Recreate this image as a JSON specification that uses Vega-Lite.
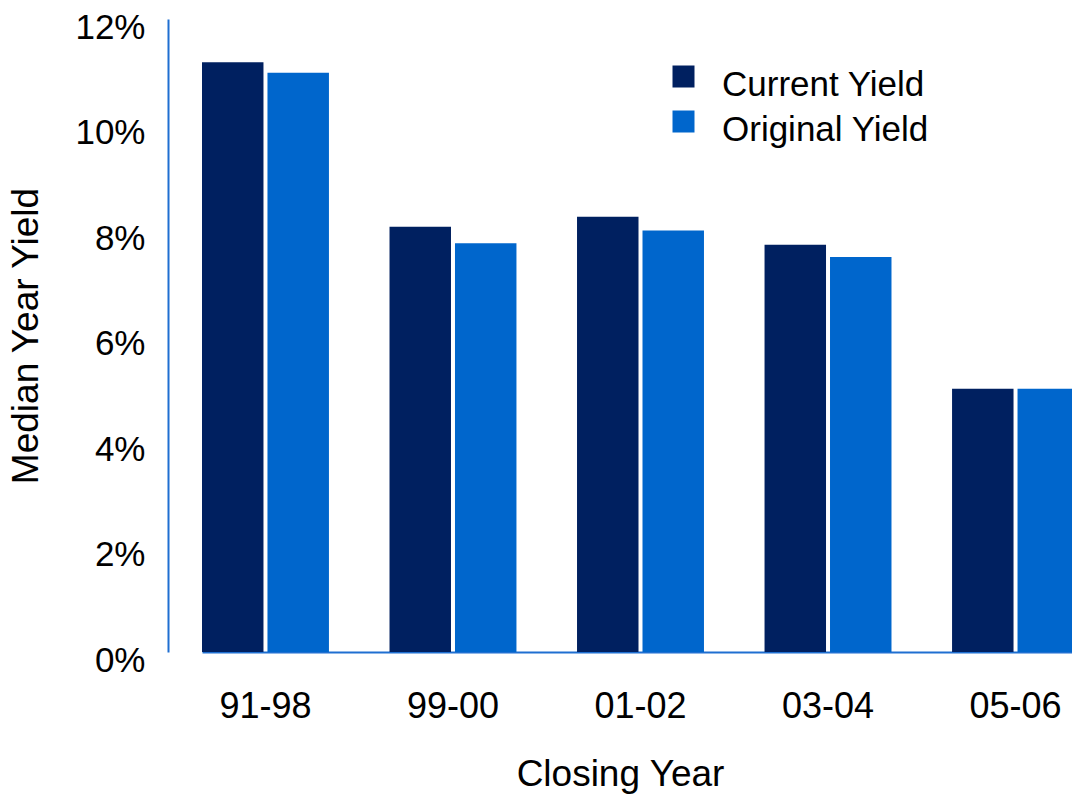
{
  "$schema": "https://vega.github.io/schema/vega-lite/v6.json",
  "width": 870,
  "height": 633,
  "autosize": {"type": "none"},
  "padding": {"left": 202, "top": 19, "right": 0, "bottom": 145},
  "background": "white",
  "config": {"view": {"stroke": null}, "font": "Liberation Sans"},
  "data": {
    "values": [
      {"period": "91-98", "series": "Current Yield", "value": 0.1118},
      {"period": "91-98", "series": "Original Yield", "value": 0.1098},
      {"period": "99-00", "series": "Current Yield", "value": 0.0806},
      {"period": "99-00", "series": "Original Yield", "value": 0.0775},
      {"period": "01-02", "series": "Current Yield", "value": 0.0825},
      {"period": "01-02", "series": "Original Yield", "value": 0.0799},
      {"period": "03-04", "series": "Current Yield", "value": 0.0772},
      {"period": "03-04", "series": "Original Yield", "value": 0.0749},
      {"period": "05-06", "series": "Current Yield", "value": 0.0499},
      {"period": "05-06", "series": "Original Yield", "value": 0.0499}
    ]
  },
  "mark": {"type": "bar"},
  "encoding": {
    "x": {
      "field": "period",
      "type": "nominal",
      "sort": ["91-98", "99-00", "01-02", "03-04", "05-06"],
      "scale": {"paddingInner": 0.323, "paddingOuter": 0, "range": [0, 877]},
      "axis": {
        "title": "Closing Year",
        "labelAngle": 0,
        "labelFontSize": 36,
        "labelColor": "black",
        "ticks": false,
        "domainColor": "#1F6FD1",
        "domainWidth": 2,
        "labelPadding": 37,
        "titleFontSize": 37,
        "titleFontWeight": "normal",
        "titleColor": "black",
        "titleX": 418,
        "titlePadding": 32
      }
    },
    "xOffset": {
      "field": "series",
      "sort": ["Current Yield", "Original Yield"],
      "scale": {"paddingInner": 0.061}
    },
    "y": {
      "field": "value",
      "type": "quantitative",
      "scale": {"domain": [0, 0.12], "nice": false},
      "axis": {
        "title": "Median Year Yield",
        "format": ".0%",
        "values": [0, 0.02, 0.04, 0.06, 0.08, 0.1, 0.12],
        "grid": false,
        "ticks": false,
        "offset": 34,
        "labelPadding": 23,
        "labelOffset": 8,
        "labelFontSize": 35,
        "labelColor": "black",
        "domainColor": "#1F6FD1",
        "domainWidth": 2,
        "titleFontSize": 37,
        "titleFontWeight": "normal",
        "titleColor": "black",
        "titlePadding": 29
      }
    },
    "color": {
      "field": "series",
      "type": "nominal",
      "scale": {"domain": ["Current Yield", "Original Yield"], "range": ["#002060", "#0066CC"]},
      "legend": {
        "orient": "none",
        "legendX": 464,
        "legendY": 48,
        "title": null,
        "symbolType": "M-1,-1.727H1V0.273H-1Z",
        "symbolSize": 484,
        "symbolStrokeWidth": 0,
        "labelFontSize": 35,
        "labelColor": "black",
        "labelLimit": 400,
        "labelOffset": 21,
        "rowPadding": 7,
        "padding": 0
      }
    }
  }
}
